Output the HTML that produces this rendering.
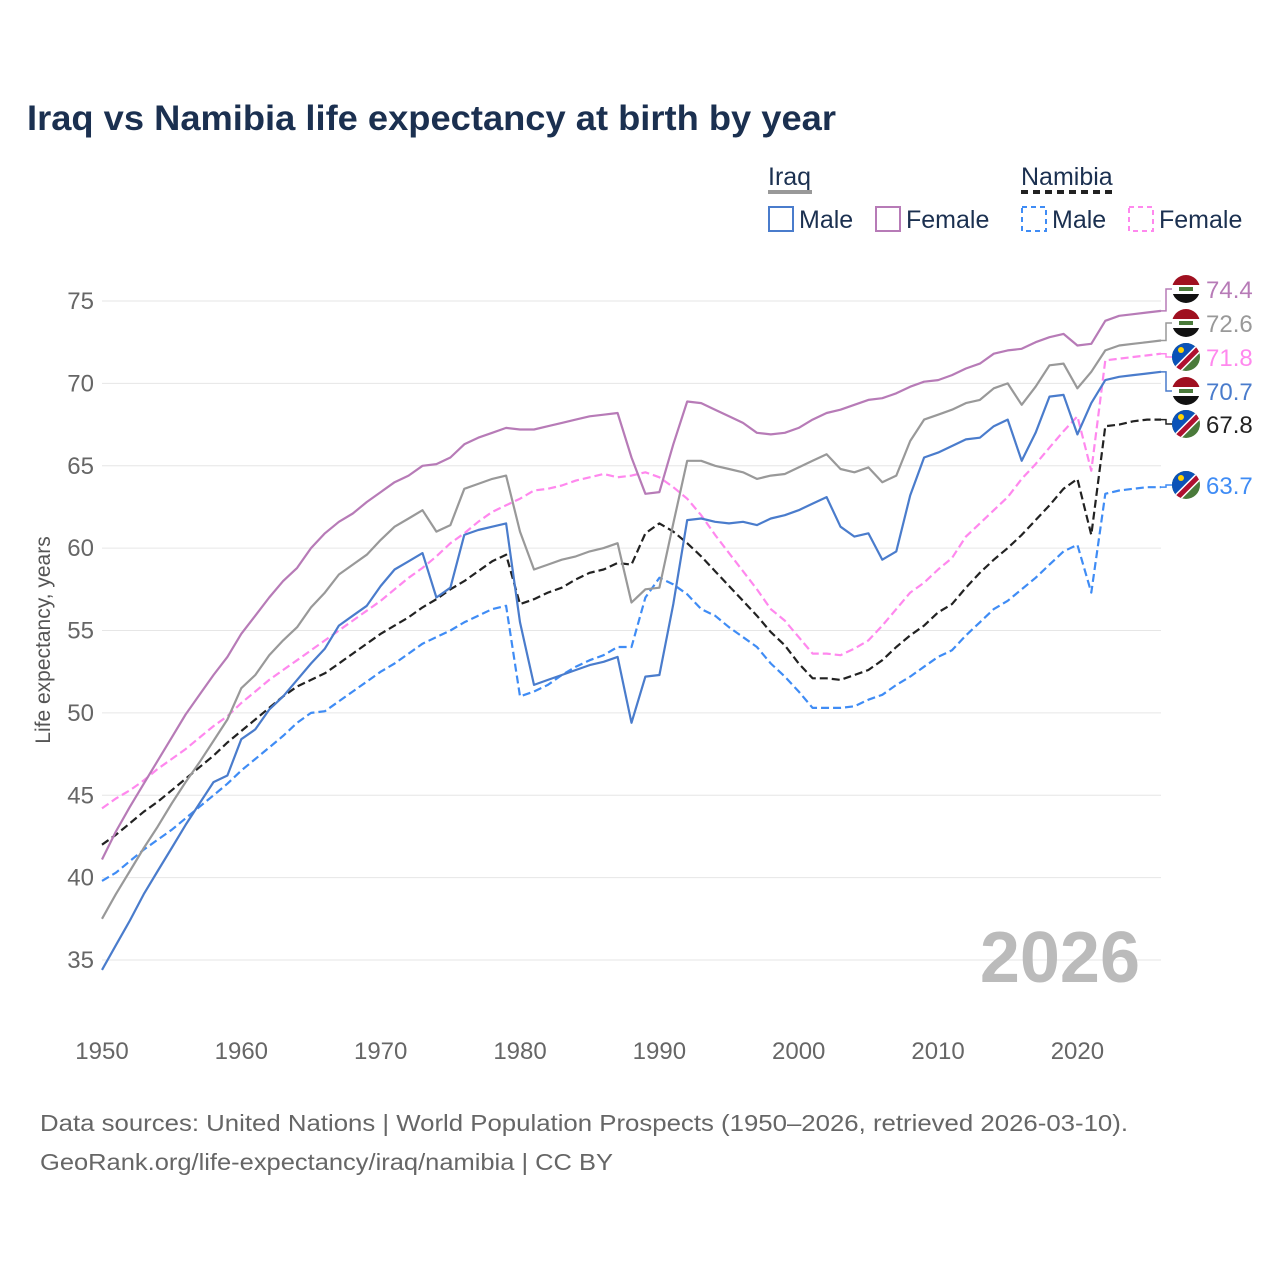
<!DOCTYPE html>
<html><head><meta charset="utf-8"><style>
body{margin:0;background:#fff;width:1280px;height:1280px;overflow:hidden;font-family:"Liberation Sans",sans-serif}
</style></head><body>
<svg id="chart" width="1280" height="1280" xmlns="http://www.w3.org/2000/svg">
<text x="27" y="130" font-size="35" font-weight="bold" fill="#1b3050" textLength="809" lengthAdjust="spacingAndGlyphs">Iraq vs Namibia life expectancy at birth by year</text>
<g id="legend" font-size="25" fill="#1b3050">
 <text x="768" y="185">Iraq</text>
 <line x1="768" y1="192" x2="812" y2="192" stroke="#999" stroke-width="4"/>
 <text x="1021" y="185">Namibia</text>
 <line x1="1021" y1="192" x2="1116" y2="192" stroke="#222" stroke-width="4" stroke-dasharray="7,5"/>
 <rect x="769" y="207" width="24" height="24" fill="none" stroke="#4a7ccc" stroke-width="2"/>
 <text x="799" y="228">Male</text>
 <rect x="876" y="207" width="24" height="24" fill="none" stroke="#b77bb7" stroke-width="2"/>
 <text x="906" y="228">Female</text>
 <rect x="1022" y="207" width="24" height="24" fill="none" stroke="#3f8cf5" stroke-width="2" stroke-dasharray="5,4"/>
 <text x="1052" y="228">Male</text>
 <rect x="1129" y="207" width="24" height="24" fill="none" stroke="#ff88ee" stroke-width="2" stroke-dasharray="5,4"/>
 <text x="1159" y="228">Female</text>
</g>
<g id="grid"></g>
<text x="1140" y="982" font-size="72" font-weight="bold" fill="#bbb" text-anchor="end">2026</text>
<g id="series"></g>
<g id="labels"></g>
<text transform="translate(50,640) rotate(-90)" font-size="21" fill="#555" text-anchor="middle">Life expectancy, years</text>
<text x="40" y="1131" font-size="23" fill="#666" textLength="1088" lengthAdjust="spacingAndGlyphs">Data sources: United Nations | World Population Prospects (1950–2026, retrieved 2026-03-10).</text>
<text x="40" y="1170" font-size="23" fill="#666" textLength="573" lengthAdjust="spacingAndGlyphs">GeoRank.org/life-expectancy/iraq/namibia | CC BY</text>
</svg>
<script>
const startYear = 1950;
const xTicks = [1950,1960,1970,1980,1990,2000,2010,2020];
const yTicks = [35,40,45,50,55,60,65,70,75];
const iraqFemale = [41.1,42.8,44.3,45.7,47.1,48.5,49.9,51.1,52.3,53.4,54.8,55.9,57.0,58.0,58.8,60.0,60.9,61.6,62.1,62.8,63.4,64.0,64.4,65.0,65.1,65.5,66.3,66.7,67.0,67.3,67.2,67.2,67.4,67.6,67.8,68.0,68.1,68.2,65.5,63.3,63.4,66.3,68.9,68.8,68.4,68.0,67.6,67.0,66.9,67.0,67.3,67.8,68.2,68.4,68.7,69.0,69.1,69.4,69.8,70.1,70.2,70.5,70.9,71.2,71.8,72.0,72.1,72.5,72.8,73.0,72.3,72.4,73.8,74.1,74.2,74.3,74.4];
const iraqTotal = [37.5,39.0,40.4,41.8,43.1,44.5,45.8,47.0,48.3,49.6,51.5,52.3,53.5,54.4,55.2,56.4,57.3,58.4,59.0,59.6,60.5,61.3,61.8,62.3,61.0,61.4,63.6,63.9,64.2,64.4,61.0,58.7,59.0,59.3,59.5,59.8,60.0,60.3,56.7,57.5,57.6,61.5,65.3,65.3,65.0,64.8,64.6,64.2,64.4,64.5,64.9,65.3,65.7,64.8,64.6,64.9,64.0,64.4,66.5,67.8,68.1,68.4,68.8,69.0,69.7,70.0,68.7,69.8,71.1,71.2,69.7,70.7,72.0,72.3,72.4,72.5,72.6];
const iraqMale = [34.4,35.9,37.4,39.0,40.4,41.8,43.2,44.5,45.8,46.2,48.4,49.0,50.2,51.0,52.0,53.0,53.9,55.3,55.9,56.5,57.7,58.7,59.2,59.7,57.0,57.6,60.8,61.1,61.3,61.5,55.5,51.7,52.0,52.3,52.6,52.9,53.1,53.4,49.4,52.2,52.3,56.6,61.7,61.8,61.6,61.5,61.6,61.4,61.8,62.0,62.3,62.7,63.1,61.3,60.7,60.9,59.3,59.8,63.2,65.5,65.8,66.2,66.6,66.7,67.4,67.8,65.3,67.0,69.2,69.3,66.9,68.8,70.2,70.4,70.5,70.6,70.7];
const namibiaFemale = [44.2,44.8,45.3,45.9,46.6,47.2,47.8,48.5,49.2,49.8,50.6,51.3,52.0,52.6,53.2,53.8,54.4,55.0,55.6,56.2,56.8,57.5,58.2,58.8,59.5,60.3,60.9,61.6,62.2,62.6,63.0,63.5,63.6,63.8,64.1,64.3,64.5,64.3,64.4,64.6,64.3,63.7,63.0,62.0,60.8,59.7,58.6,57.5,56.3,55.6,54.6,53.6,53.6,53.5,53.9,54.4,55.3,56.3,57.3,57.9,58.7,59.4,60.7,61.5,62.3,63.1,64.2,65.1,66.1,67.1,68.0,64.7,71.4,71.5,71.6,71.7,71.8];
const namibiaTotal = [42.0,42.6,43.3,44.0,44.6,45.3,46.0,46.7,47.4,48.2,48.9,49.6,50.3,51.0,51.6,52.0,52.4,53.0,53.6,54.2,54.8,55.3,55.8,56.4,56.9,57.5,58.0,58.6,59.2,59.6,56.6,56.9,57.3,57.6,58.1,58.5,58.7,59.1,59.0,60.9,61.5,61.0,60.3,59.5,58.6,57.7,56.8,55.9,54.9,54.1,53.0,52.1,52.1,52.0,52.3,52.6,53.2,54.0,54.7,55.3,56.1,56.6,57.6,58.5,59.3,60.0,60.8,61.7,62.6,63.6,64.2,60.8,67.4,67.5,67.7,67.8,67.8];
const namibiaMale = [39.8,40.3,41.0,41.7,42.3,42.9,43.6,44.3,45.0,45.7,46.5,47.2,47.9,48.6,49.4,50.0,50.1,50.7,51.3,51.9,52.5,53.0,53.6,54.2,54.6,55.0,55.5,55.9,56.3,56.5,51.0,51.3,51.7,52.3,52.8,53.2,53.5,54.0,54.0,57.0,58.2,57.8,57.2,56.3,55.9,55.2,54.6,54.0,53.0,52.2,51.3,50.3,50.3,50.3,50.4,50.8,51.1,51.7,52.2,52.8,53.4,53.8,54.7,55.5,56.3,56.8,57.5,58.2,59.0,59.8,60.2,57.3,63.3,63.5,63.6,63.7,63.7];

const NS='http://www.w3.org/2000/svg';
const X = yr => 102 + (yr-1950)*(1161-102)/76;
const Y = v => 301 + (75-v)*(960-301)/40;
function mk(tag,attrs,parent){const e=document.createElementNS(NS,tag);for(const k in attrs)e.setAttribute(k,attrs[k]);parent.appendChild(e);return e;}
const grid=document.getElementById('grid');
yTicks.forEach(v=>{
  const l=mk('line',{x1:102,x2:1161,y1:Y(v),y2:Y(v),stroke:'#e6e6e6','stroke-width':1},grid);
  
  
  const t=mk('text',{x:94,y:Y(v)+8,'font-size':24,fill:'#666','text-anchor':'end'},grid);
  t.textContent=v;
  
  
});
xTicks.forEach(yr=>{
  const t=mk('text',{x:X(yr),y:1059,'font-size':24,fill:'#666','text-anchor':'middle'},grid);
  t.textContent=yr;
  
  
});
const series=[
 {d:namibiaMale,c:'#3f8cf5',dash:'8,4',n:'namibia-male-line',lab:485,flag:'nam'},
 {d:namibiaTotal,c:'#222',dash:'8,4',n:'namibia-total-line',lab:424,flag:'nam'},
 {d:namibiaFemale,c:'#ff88ee',dash:'8,4',n:'namibia-female-line',lab:357,flag:'nam'},
 {d:iraqMale,c:'#4a7ccc',dash:null,n:'iraq-male-line',lab:391,flag:'irq'},
 {d:iraqTotal,c:'#999',dash:null,n:'iraq-total-line',lab:323,flag:'irq'},
 {d:iraqFemale,c:'#b77bb7',dash:null,n:'iraq-female-line',lab:289,flag:'irq'}
];
const sg=document.getElementById('series'), lg=document.getElementById('labels');
series.forEach(s=>{
  const pts=s.d.map((v,i)=>X(startYear+i).toFixed(1)+','+Y(v).toFixed(1)).join(' ');
  const a={points:pts,fill:'none',stroke:s.c,'stroke-width':2.2,'stroke-linejoin':'round'};
  if(s.dash)a['stroke-dasharray']=s.dash;
  const p=mk('polyline',a,sg);
  
  
  const last=s.d[s.d.length-1], ly=Y(last);
  const cy=s.lab;
  const con=mk('polyline',{points:`1161,${ly} 1166,${ly} 1166,${cy} 1172,${cy}`,fill:'none',stroke:s.c,'stroke-width':1.5},lg);
  
  
  const g=mk('g',{},lg);
  
  
  const id='c'+s.n;
  const cp=mk('clipPath',{id:id},g); mk('circle',{cx:1186,cy:cy,r:14},cp);
  const fg=mk('g',{'clip-path':`url(#${id})`},g);
  if(s.flag==='irq'){
    mk('rect',{x:1172,y:cy-14,width:28,height:10,fill:'#a01020'},fg);
    mk('rect',{x:1172,y:cy-4,width:28,height:9,fill:'#fff'},fg);
    mk('rect',{x:1172,y:cy+5,width:28,height:10,fill:'#111'},fg);
    mk('rect',{x:1179,y:cy-2,width:14,height:4,fill:'#4a7a3a'},fg);
  } else {
    mk('rect',{x:1172,y:cy-14,width:28,height:28,fill:'#4a7a3a'},fg);
    mk('polygon',{points:`1172,${cy-14} 1200,${cy-14} 1172,${cy+14}`,fill:'#0b52b8'},fg);
    mk('line',{x1:1174,y1:cy+16,x2:1202,y2:cy-12,stroke:'#fff',"stroke-width":8},fg);
    mk('line',{x1:1174,y1:cy+16,x2:1202,y2:cy-12,stroke:'#b01030',"stroke-width":5},fg);
    mk('circle',{cx:1181,cy:cy-7,r:3,fill:'#ffd200'},fg);
  }
  const t=mk('text',{x:1206,y:cy+9,'font-size':24,fill:s.c},lg);
  t.textContent=last.toFixed(1);
  
  
});
</script>
</body></html>
